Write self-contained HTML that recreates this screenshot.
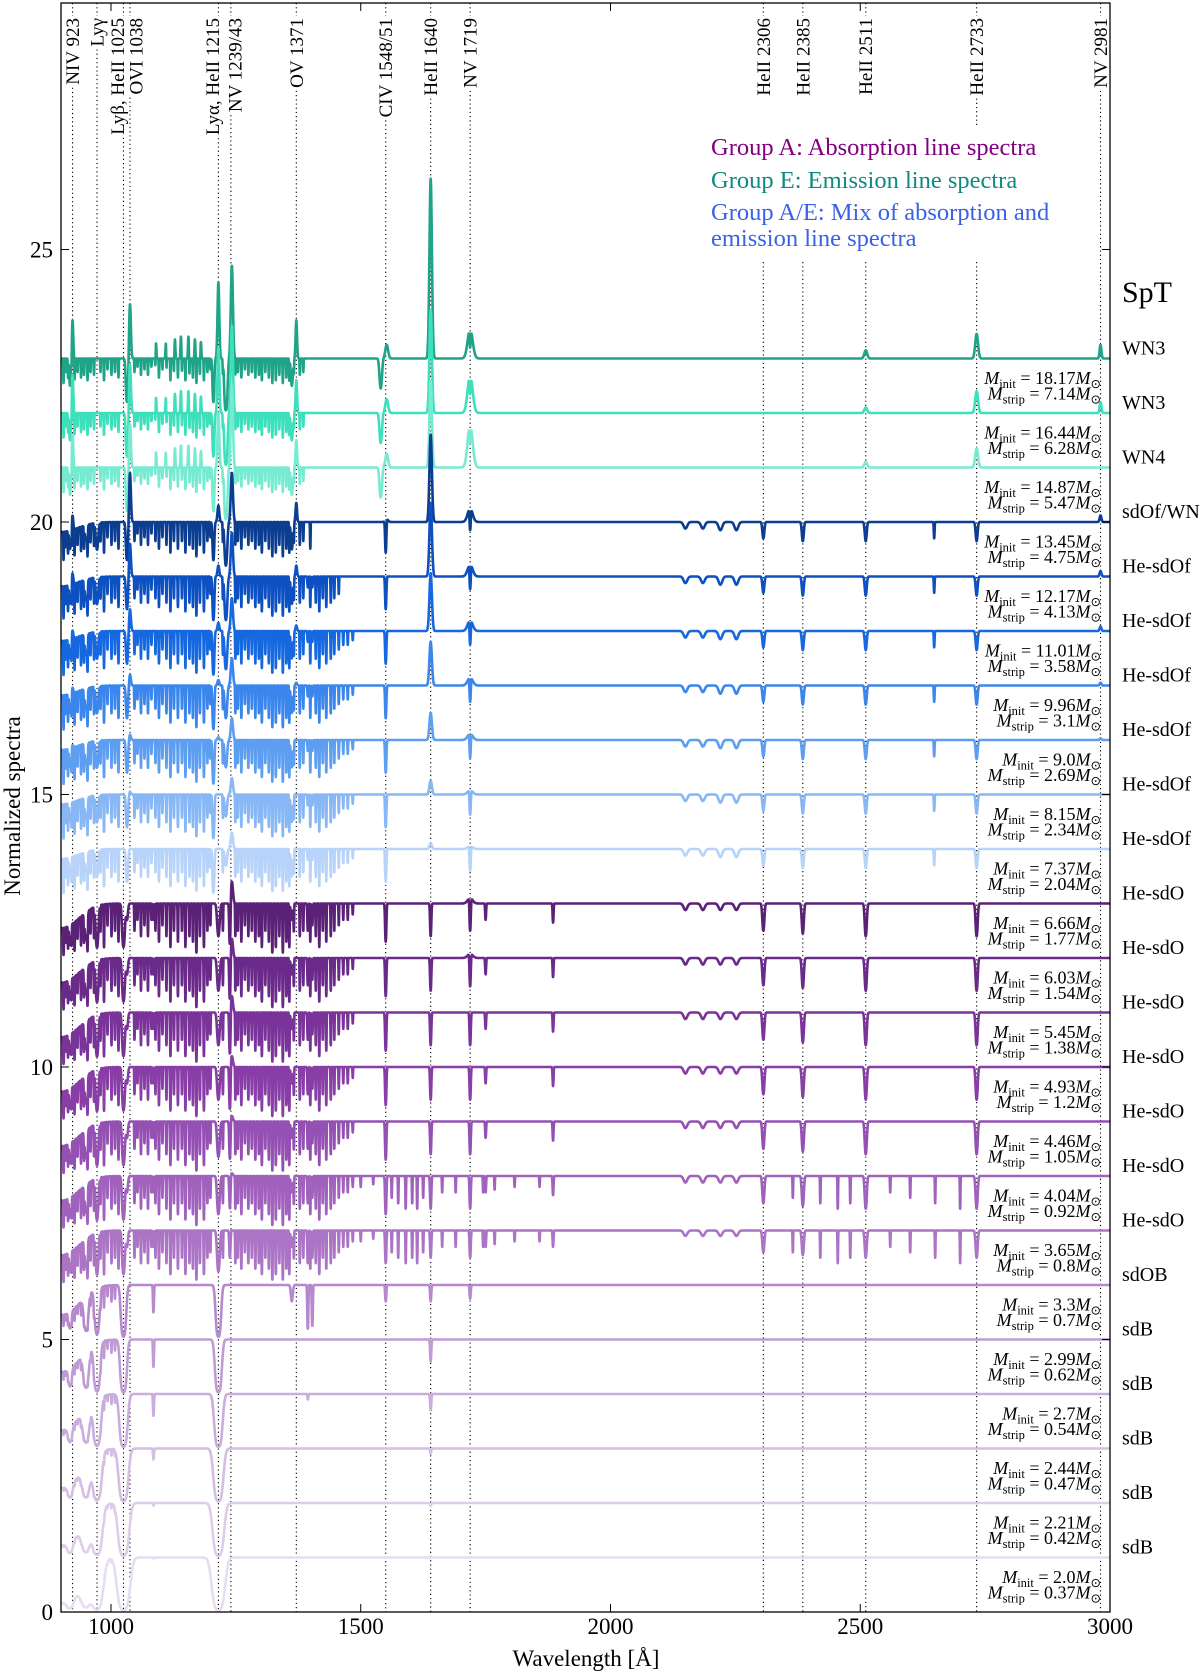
<!DOCTYPE html>
<html><head><meta charset="utf-8"><style>
html,body{margin:0;padding:0;background:#fff;}
svg{display:block;font-family:"Liberation Serif",serif;}
</style></head><body>
<svg id="chart" width="1200" height="1674" viewBox="0 0 1200 1674" xmlns="http://www.w3.org/2000/svg">
<defs><clipPath id="plotclip"><rect x="61" y="3" width="1049" height="1609"/></clipPath></defs>
<rect x="0" y="0" width="1200" height="1674" fill="#fff"/>
<g id="guides"></g>
<g id="spectra" clip-path="url(#plotclip)"></g>
<g id="axes"></g>
<g id="labels"></g>
<g font-size="24.5">
  <text x="711" y="155" fill="#800080">Group A: Absorption line spectra</text>
  <text x="711" y="188" fill="#0f8a80">Group E: Emission line spectra</text>
  <text x="711" y="220" fill="#3a62e6">Group A/E: Mix of absorption and</text>
  <text x="711" y="246" fill="#3a62e6">emission line spectra</text>
</g>
<text x="1122" y="302" font-size="30">SpT</text>
<text x="586" y="1666" font-size="23" text-anchor="middle">Wavelength [Å]</text>
<text transform="translate(20,806) rotate(-90)" font-size="23" text-anchor="middle">Normalized spectra</text>
</svg>
<script>
// ---- data ----
const levels = [23,22,21,20,19,18,17,16,15,14,13,12,11,10,9,8,7,6,5,4,3,2,1];
const colors = ["#1fa487","#3ee0bc","#76ebd1","#0b3d91","#0d50c2","#1668e0","#3b86ec","#5d9ef1","#88b7f5","#b7d3f9",
  "#5a2177","#6a2a8a","#7a3399","#883ea6","#9450b2","#a062bc","#ab74c5","#b688ce","#c09bd6","#caaddd","#d4bee4","#ddcdeb","#e7dcf2"];
const sptLabels = ["WN3","WN3","WN4","sdOf/WN","He-sdOf","He-sdOf","He-sdOf","He-sdOf","He-sdOf","He-sdOf","He-sdO","He-sdO","He-sdO","He-sdO","He-sdO","He-sdO","He-sdO","sdOB","sdB","sdB","sdB","sdB","sdB"];
const mInit = ["18.17","16.44","14.87","13.45","12.17","11.01","9.96","9.0","8.15","7.37","6.66","6.03","5.45","4.93","4.46","4.04","3.65","3.3","2.99","2.7","2.44","2.21","2.0"];
const mStrip = ["7.14","6.28","5.47","4.75","4.13","3.58","3.1","2.69","2.34","2.04","1.77","1.54","1.38","1.2","1.05","0.92","0.8","0.7","0.62","0.54","0.47","0.42","0.37"];

const markerWl = [923,972,1025,1038,1215,1240,1371,1550,1640,1719,2306,2385,2511,2733,2981];
const markerText = ["NIV 923","Lyγ","Lyβ, HeII 1025","OVI 1038","Lyα, HeII 1215","NV 1239/43","OV 1371","CIV 1548/51","HeII 1640","NV 1719","HeII 2306","HeII 2385","HeII 2511","HeII 2733","NV 2981"];
const markerShift = [0,0,-6,6,-6,4,0,0,0,0,0,0,0,0,0];

const xTicks = [1000,1500,2000,2500,3000];
const yTicks = [0,5,10,15,20,25];

// emission lines: wavelength, width
const emLines = [923,1038,1090,1110,1128,1140,1155,1168,1180,1215,1242,1371,1552,1640,1719,2511,2733,2981];
const emWidth = [2,2.5,1.2,1.2,1.2,1.2,1.2,1.2,1.2,2.5,3,2,4,3.5,7,4,4,2.5];
const emHeights = [
 [0.7,1.0,0.3,0.3,0.35,0.4,0.4,0.35,0.3,1.4,1.7,0.7,0.25,3.3,0.55,0.15,0.45,0.25],
 [0.7,0.9,0.3,0.3,0.35,0.4,0.4,0.35,0.3,1.2,1.6,0.6,0.25,1.9,0.7,0.1,0.4,0.2],
 [0.6,0.8,0.3,0.3,0.35,0.4,0.4,0.35,0.3,1.0,1.5,0.5,0.25,1.6,0.8,0.1,0.35,0],
 [0.26,0.9,0,0,0,0,0,0,0,0.3,0.9,0.35,0.05,1.6,0.25,0,0,0.12],
 [0.2,0.6,0,0,0,0,0,0,0,0.2,0.8,0.2,0,1.35,0.22,0,0,0.1],
 [0.15,0.4,0,0,0,0,0,0,0,0.15,0.6,0.1,0,1.06,0.2,0,0,0.08],
 [0.1,0.2,0,0,0,0,0,0,0,0.1,0.5,0.05,0,0.8,0.15,0,0,0.05],
 [0.05,0.1,0,0,0,0,0,0,0,0.05,0.4,0,0,0.5,0.12,0,0,0.03],
 [0,0.05,0,0,0,0,0,0,0,0,0.3,0,0,0.25,0.08,0,0,0],
 [0,0,0,0,0,0,0,0,0,0,0.3,0,0,0.1,0.05,0,0,0],
 [0,0,0,0,0,0,0,0,0,0,0.4,0,0,0,0.1,0,0,0],
 [0,0,0,0,0,0,0,0,0,0,0.35,0,0,0,0.08,0,0,0],
 [0,0,0,0,0,0,0,0,0,0,0.3,0,0,0,0,0,0,0],
 [0,0,0,0,0,0,0,0,0,0,0.2,0,0,0,0,0,0,0],
 [0,0,0,0,0,0,0,0,0,0,0.1,0,0,0,0,0,0,0],
 [0,0,0,0,0,0,0,0,0,0,0.05,0,0,0,0,0,0,0],
 [0,0,0,0,0,0,0,0,0,0,0,0,0,0,0,0,0,0],
 [0,0,0,0,0,0,0,0,0,0,0,0,0,0,0,0,0,0],
 [0,0,0,0,0,0,0,0,0,0,0,0,0,0,0,0,0,0],
 [0,0,0,0,0,0,0,0,0,0,0,0,0,0,0,0,0,0],
 [0,0,0,0,0,0,0,0,0,0,0,0,0,0,0,0,0,0],
 [0,0,0,0,0,0,0,0,0,0,0,0,0,0,0,0,0,0],
 [0,0,0,0,0,0,0,0,0,0,0,0,0,0,0,0,0,0]
];

// absorption lines: wavelength, base width
const absLines = [918,950,972,1025,1032,1085,1205,1215,1230,1238,1362,1394,1403,1540,1550,1640,1719,1750,1885,2150,2185,2220,2252,2306,2385,2511,2648,2733];
const absWidth = [2,3,3,3,2.5,1.2,2,3,3,1.5,2.5,1.2,1.2,3,1.5,1.5,1.5,1.2,1.2,5,5,5,5,2.5,2.5,2.5,1.0,2.5];
const absDepth = [
 [0.5,0,0,0,0.8,0,0.8,0,0.95,0,0.5,0,0,0.55,0,0,0.35,0,0,0,0,0,0,0,0,0,0,0],
 [0.5,0,0,0,0.8,0,0.8,0,0.95,0,0.5,0,0,0.55,0,0,0.35,0,0,0,0,0,0,0,0,0,0,0],
 [0.5,0,0,0,0.8,0,0.8,0,0.95,0,0.5,0,0,0.55,0,0,0.35,0,0,0,0,0,0,0,0,0,0,0],
 [0.4,0.3,0.5,0,0.7,0,0.7,0,0.8,0,0.5,0,0,0,0.6,0,0.4,0,0,0.12,0.12,0.15,0.15,0.3,0.35,0.35,0.3,0.35],
 [0.4,0.4,0.5,0,0.6,0,0.8,0,0.8,0,0.5,0.2,0.2,0,0.6,0,0.45,0,0,0.12,0.12,0.15,0.15,0.3,0.35,0.35,0.3,0.35],
 [0.4,0.4,0.5,0,0.6,0,0.8,0,0.7,0,0.5,0.2,0.2,0,0.6,0,0.45,0,0,0.12,0.12,0.15,0.15,0.3,0.35,0.35,0.3,0.35],
 [0.4,0.4,0.5,0,0.6,0,0.8,0,0.6,0,0.5,0.2,0.2,0,0.6,0,0.45,0,0,0.12,0.12,0.15,0.15,0.3,0.35,0.35,0.3,0.35],
 [0.4,0.4,0.5,0,0.6,0,0.8,0,0.5,0,0.5,0.2,0.2,0,0.6,0,0.45,0,0,0.12,0.12,0.15,0.15,0.3,0.35,0.35,0.3,0.35],
 [0.4,0.4,0.5,0,0.6,0,0.8,0,0.4,0,0.5,0.2,0.2,0,0.6,0,0.45,0,0,0.12,0.12,0.15,0.15,0.3,0.35,0.35,0.3,0.35],
 [0.4,0.4,0.5,0,0.6,0,0.8,0,0.3,0,0.5,0.2,0.2,0,0.6,0,0.45,0,0,0.12,0.12,0.15,0.15,0.3,0.35,0.35,0.3,0.35],
 [0.6,0.6,0.8,0.8,0.3,0.3,0,0.6,0,0.8,0.3,0.5,0.4,0,0.7,0.6,0.6,0.3,0.35,0.12,0.12,0.12,0.12,0.5,0.55,0.6,0,0.6],
 [0.6,0.6,0.8,0.8,0.3,0.3,0,0.6,0,0.8,0.3,0.5,0.4,0,0.7,0.6,0.6,0.3,0.35,0.12,0.12,0.12,0.12,0.5,0.55,0.6,0,0.6],
 [0.6,0.6,0.8,0.8,0.3,0.3,0,0.6,0,0.8,0.3,0.5,0.4,0,0.7,0.6,0.6,0.3,0.35,0.12,0.12,0.12,0.12,0.5,0.55,0.6,0,0.6],
 [0.6,0.6,0.8,0.8,0.3,0.3,0,0.6,0,0.8,0.3,0.5,0.4,0,0.7,0.6,0.6,0.3,0.35,0.12,0.12,0.12,0.12,0.5,0.55,0.6,0,0.6],
 [0.6,0.6,0.8,0.8,0.3,0.3,0,0.65,0,0.7,0.3,0.5,0.4,0,0.7,0.6,0.6,0.3,0.35,0.12,0.12,0.12,0.12,0.5,0.55,0.6,0,0.6],
 [0.6,0.6,0.8,0.8,0.3,0.3,0,0.7,0,0.6,0.3,0.5,0.4,0,0.7,0.6,0.6,0.3,0.35,0.12,0.12,0.12,0.12,0.5,0.55,0.6,0,0.6],
 [0.6,0.6,0.8,0.8,0.3,0.3,0,0.75,0,0.5,0.3,0.6,0.5,0,0.6,0.5,0.5,0.3,0.3,0.1,0.1,0.1,0.1,0.4,0.45,0.5,0,0.5],
 [0.6,0.8,0.9,0.95,0,0.5,0,0.95,0,0,0.3,0.8,0.75,0,0.3,0.3,0.25,0,0,0,0,0,0,0,0,0,0,0],
 [0.7,0.85,0.95,0.97,0,0.5,0,0.97,0,0,0,0,0,0,0,0.4,0,0,0,0,0,0,0,0,0,0,0,0],
 [0.7,0.85,0.95,0.97,0,0.4,0,0.97,0,0,0,0.1,0,0,0,0.3,0,0,0,0,0,0,0,0,0,0,0,0],
 [0.7,0.85,0.95,0.97,0,0.2,0,0.97,0,0,0,0,0,0,0,0.1,0,0,0,0,0,0,0,0,0,0,0,0],
 [0.7,0.85,0.95,0.97,0,0.05,0,0.97,0,0,0,0,0,0,0,0.05,0,0,0,0,0,0,0,0,0,0,0,0],
 [0.7,0.85,0.95,0.97,0,0.02,0,0.97,0,0,0,0,0,0,0,0,0,0,0,0,0,0,0,0,0,0,0,0]
];
const lymanIdx = [0,1,2,3,7];
const lymanWidthFactor = [1,1,1,1,1,1,1,1,1,1,1,1,1,1,1,1,1,1.6,1.9,2.3,2.7,3.1,3.6];
const lymanDepression = [0,0,0,0.2,0.2,0.2,0.2,0.2,0.2,0.2,0.6,0.6,0.6,0.6,0.6,0.6,0.6,0.8,0.9,1.1,1.3,1.5,1.8];

// metal line forest
const forestWl = [905,909,914,921,927,933,940,946,953,959,
 966,979,986,993,1001,1008,1015,1047,1053,1060,
 1067,1074,1081,1089,1096,1103,1111,1119,1126,1134,
 1142,1149,1157,1164,1171,1178,1186,1193,1199,1224,
 1249,1254,1261,1268,1275,1282,1289,1296,1302,1309,
 1316,1323,1330,1337,1344,1351,1357,1366,1378,1385,
 1399,1410,1417,1424,1431,1440,1447,1456,1465,1474,
 1484,1500,1525,1562,1575,1590,1603,1613,1625,1663,
 1690,1745,1768,1808,1858,2365,2420,2455,2480,2560,
 2600,2650,2700];
const forestDepth = [0.9,0.5,0.7,0.6,0.8,0.5,0.7,0.6,0.8,0.5,
 0.6,0.5,0.8,0.4,0.6,0.5,0.7,0.5,0.3,0.6,
 0.4,0.6,0.3,0.5,0.7,0.4,0.6,0.8,0.5,0.7,
 0.5,0.8,0.6,0.7,0.9,0.6,0.8,0.5,0.4,0.5,
 0.6,0.5,0.7,0.4,0.6,0.5,0.7,0.6,0.8,0.5,
 0.7,0.9,0.8,0.6,0.9,0.7,0.8,0.5,0.6,0.5,
 0.7,0.6,0.8,0.5,0.7,0.6,0.5,0.4,0.3,0.3,
 0.2,0.2,0.15,0.4,0.5,0.6,0.5,0.6,0.4,0.3,
 0.3,0.3,0.25,0.2,0.2,0.4,0.5,0.6,0.5,0.3,
 0.4,0.5,0.6];
const forestScale = [0.5,0.5,0.5,0.7,0.8,0.85,0.85,0.85,0.85,0.85,1,1,1,1,1,1,1,0.5,0.4,0.3,0.2,0.15,0.1];
const forestCut = [1390,1390,1390,1400,1460,1490,1490,1490,1490,1490,1490,1490,1490,1490,1490,2750,2750,1010,1010,1010,1010,1010,1010];

// ---- axis functions ----
const X0 = 111, XS = 0.4995, Y0 = 1612, YS = 54.5;
function xpx(w){ return X0 + (w - 1000) * XS; }
function ypx(v){ return Y0 - v * YS; }
const NS = "http://www.w3.org/2000/svg";
function mk(tag, attrs, parent){ const e = document.createElementNS(NS, tag); for (const k in attrs) e.setAttribute(k, attrs[k]); parent.appendChild(e); return e; }

// ---- spectra ----
const spectraG = document.getElementById('spectra');
function flux(i, w){
  let tau = lymanDepression[i] * Math.exp(-Math.pow((w - 900) / 45, 2));
  for (let j = 0; j < absLines.length; j++){
    const d = absDepth[i][j]; if (!d) continue;
    let wd = absWidth[j]; if (lymanIdx.indexOf(j) >= 0) wd *= lymanWidthFactor[i];
    const x = (w - absLines[j]) / wd; if (Math.abs(x) > 6) continue;
    tau += -Math.log(1 - Math.min(d, 0.97)) * Math.exp(-x * x);
  }
  if (w < forestCut[i]){
    for (let j = 0; j < forestWl.length; j++){
      if (forestWl[j] > forestCut[i]) continue;
      const x = (w - forestWl[j]) / 0.7; if (Math.abs(x) > 5) continue;
      tau += -Math.log(1 - Math.min(0.95, forestScale[i] * forestDepth[j])) * Math.exp(-x * x);
    }
  }
  let f = Math.exp(-tau);
  for (let j = 0; j < emLines.length; j++){
    const h = emHeights[i][j]; if (!h) continue;
    const x = (w - emLines[j]) / emWidth[j]; if (Math.abs(x) > 6) continue;
    f += h * Math.exp(-x * x);
  }
  return f - 1;
}
for (let i = 0; i < levels.length; i++){
  let d = "";
  for (let w = 900; w <= 3000; w += 0.25){
    const v = levels[i] + flux(i, w);
    d += (d ? "L" : "M") + xpx(w).toFixed(2) + " " + ypx(v).toFixed(2);
  }
  const p = mk('path', {d: d, fill: 'none', stroke: colors[i], 'stroke-width': 2.6, 'stroke-linejoin': 'round'}, spectraG);
  
  
}

// ---- marker lines and labels ----
const guides = document.getElementById('guides');
const labelsG = document.getElementById('labels');
for (let k = 0; k < markerWl.length; k++){
  const x = xpx(markerWl[k]);
  const cx = x + markerShift[k];
  const t = mk('text', {transform: 'translate(' + (cx + 6.5) + ',18) rotate(-90)', 'font-size': 19, 'text-anchor': 'end'}, labelsG);
  t.textContent = markerText[k];
  
  
  const len = t.getComputedTextLength();
  const segs = [[3, 16]];
  const wl = markerWl[k];
  if (wl >= 2300 && wl < 2700) segs.push([262, Y0]);
  else if (wl >= 2700 && wl < 2900) { segs.push([18 + len + 3, 128]); segs.push([262, Y0]); }
  else segs.push([18 + len + 3, Y0]);
  segs.forEach(s => {
    const l = mk('line', {x1: x, x2: x, y1: s[0], y2: s[1], stroke: '#000', 'stroke-width': 1.1, 'stroke-dasharray': '1.2 3'}, guides);
    
    
  });
}

// ---- SpT and mass labels ----
for (let i = 0; i < levels.length; i++){
  const L = levels[i];
  const s = mk('text', {x: 1122, y: (ypx(L) - 4).toFixed(1), 'font-size': 20}, labelsG);
  s.textContent = sptLabels[i];
  
  
  const rows = [['init', mInit[i], L - 0.36], ['strip', mStrip[i], L - 0.64]];
  rows.forEach(r => {
    const t = mk('text', {x: 1101, y: (ypx(r[2]) + 6).toFixed(1), 'font-size': 18, 'text-anchor': 'end'}, labelsG);
    t.innerHTML = '<tspan font-style="italic">M</tspan><tspan font-size="12.5" dy="4">' + r[0] + '</tspan><tspan dy="-4"> = ' + r[1] + '</tspan><tspan font-style="italic">M</tspan><tspan font-size="12.5" dy="4">⊙</tspan>';
    
    
  });
}

// ---- axes ----
const axes = document.getElementById('axes');
const frame = mk('rect', {x: 61, y: 3, width: 1049, height: Y0 - 3, fill: 'none', stroke: '#000', 'stroke-width': 1.3}, axes);


xTicks.forEach(v => {
  const x = xpx(v);
  mk('line', {x1: x, x2: x, y1: Y0, y2: Y0 - 8, stroke: '#000', 'stroke-width': 1}, axes);
  mk('line', {x1: x, x2: x, y1: 3, y2: 11, stroke: '#000', 'stroke-width': 1}, axes);
  const t = mk('text', {x: x, y: 1634, 'font-size': 23, 'text-anchor': 'middle'}, axes);
  t.textContent = v;
  
  
});
yTicks.forEach(v => {
  const y = ypx(v);
  mk('line', {x1: 61, x2: 69, y1: y, y2: y, stroke: '#000', 'stroke-width': 1}, axes);
  mk('line', {x1: 1102, x2: 1110, y1: y, y2: y, stroke: '#000', 'stroke-width': 1}, axes);
  const t = mk('text', {x: 53, y: y + 8, 'font-size': 23, 'text-anchor': 'end'}, axes);
  t.textContent = v;
  
  
});
</script>
</body></html>
